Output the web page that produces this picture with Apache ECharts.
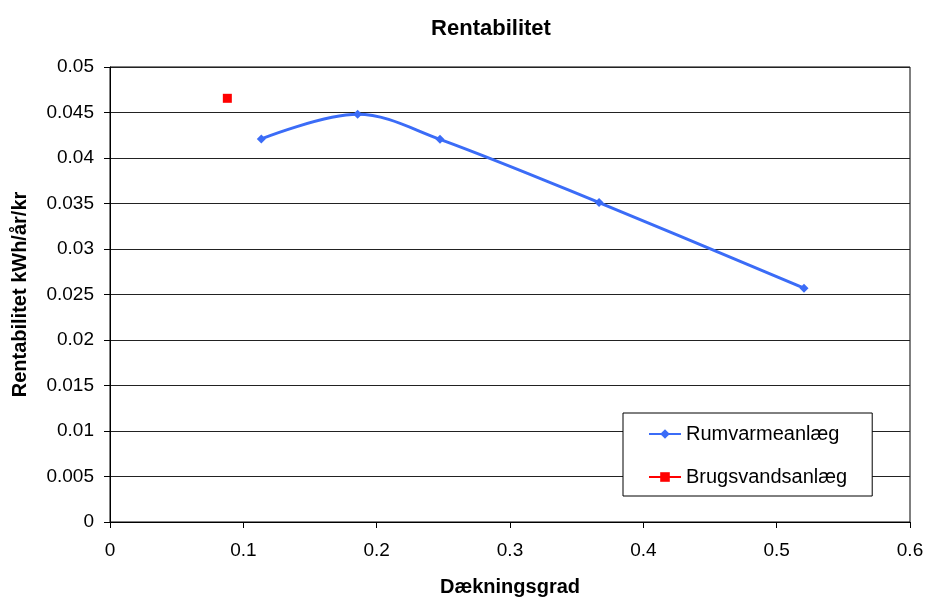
<!DOCTYPE html>
<html><head><meta charset="utf-8">
<script src="https://cdn.jsdelivr.net/npm/echarts@6/dist/echarts.min.js"></script>
<style>html,body{margin:0;padding:0;background:#fff}#c{width:927px;height:597px}</style>
</head><body><div id="c"></div>
<script>
const titleText = 'Rentabilitet';
const xTitle = 'Dækningsgrad';
const yTitle = 'Rentabilitet kWh/år/kr';
const rumX = [0.1135, 0.1857, 0.2475, 0.3668, 0.5205];
const rumY = [0.0421, 0.0448, 0.04205, 0.0351, 0.0257];
const brugX = [0.088];
const brugY = [0.04656];
const seriesNames = ['Rumvarmeanlæg', 'Brugsvandsanlæg'];

const chart = echarts.init(document.getElementById('c'));
const font = 'Liberation Sans, Arial, sans-serif';
const fmt = v => String(+v.toFixed(4));
chart.setOption({
  animation: false,
  backgroundColor: '#fff',
  title: { text: titleText, left: 486, top: 13, textAlign: 'center',
    textStyle: { fontFamily: font, fontSize: 22, fontWeight: 'bold', color: '#000' } },
  grid: { left: 110, right: 17, top: 67, bottom: 75, show: true, borderColor: '#000', borderWidth: 1,
    containLabel: false, outerBoundsMode: 'none' },
  xAxis: {
    type: 'value', min: 0, max: 0.6, interval: 0.1,
    name: xTitle, nameLocation: 'middle', nameGap: 55,
    nameTextStyle: { fontFamily: font, fontSize: 20, fontWeight: 'bold', color: '#000' },
    axisLine: { show: true, onZero: false, lineStyle: { color: '#000' } },
    axisTick: { show: true, inside: false, length: 6, lineStyle: { color: '#000' } },
    axisLabel: { formatter: fmt, fontFamily: font, fontSize: 19, color: '#000', margin: 19 },
    splitLine: { show: false }
  },
  yAxis: {
    type: 'value', min: 0, max: 0.05, interval: 0.005,
    name: yTitle, nameLocation: 'middle', nameGap: 80,
    nameTextStyle: { fontFamily: font, fontSize: 20, fontWeight: 'bold', color: '#000' },
    axisLine: { show: true, onZero: false, lineStyle: { color: '#000' } },
    axisTick: { show: true, length: 6, lineStyle: { color: '#000' } },
    axisLabel: { formatter: fmt, fontFamily: font, fontSize: 19, color: '#000', margin: 16 },
    splitLine: { show: true, lineStyle: { color: '#222', width: 1 } }
  },
  legend: {
    orient: 'vertical', left: 623, top: 413,
    backgroundColor: '#fff', borderColor: '#000', borderWidth: 1,
    padding: [11, 25, 9, 25], itemWidth: 32, itemHeight: 12, itemGap: 23,
    textStyle: { fontFamily: font, fontSize: 20, color: '#000' },
    data: seriesNames
  },
  series: [
    { name: seriesNames[0], type: 'line', smooth: 0.35,
      data: rumX.map((x, i) => [x, rumY[i]]),
      symbol: 'diamond', symbolSize: 9,
      lineStyle: { color: '#3b6cf7', width: 3 },
      itemStyle: { color: '#3b6cf7' } },
    { name: seriesNames[1], type: 'line',
      data: brugX.map((x, i) => [x, brugY[i]]),
      symbol: 'rect', symbolSize: 9,
      lineStyle: { color: '#ff0000', width: 1 },
      itemStyle: { color: '#ff0000' } }
  ]
});
</script></body></html>
